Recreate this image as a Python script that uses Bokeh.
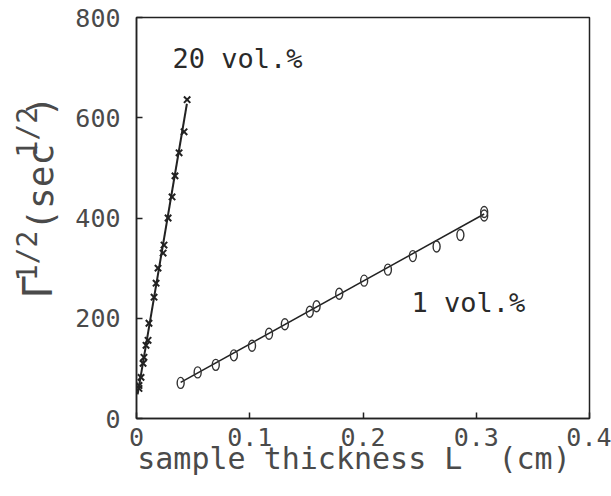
from bokeh.plotting import figure
from bokeh.models import Range1d, FixedTicker, Label
from bokeh.layouts import row
from bokeh.core.properties import value
from bokeh.embed import file_html
from bokeh.resources import INLINE
import math

# ---- data ----
x_1vol = [0.039, 0.054, 0.070, 0.086, 0.102, 0.117, 0.131, 0.153, 0.159, 0.179,
          0.201, 0.222, 0.244, 0.265, 0.286, 0.307, 0.307]
y_1vol = [71, 92, 107, 126, 145, 169, 188, 213, 224, 249,
          275, 297, 324, 343, 366, 412, 405]
fit_1vol_x = [0.039, 0.307]
fit_1vol_y = [72, 408]

x_20vol = [0.0022, 0.0022, 0.0040, 0.0058, 0.0066, 0.0084, 0.0102, 0.0110, 0.0155,
           0.0173, 0.0190, 0.0235, 0.0243, 0.0279, 0.0314, 0.0340, 0.0376, 0.0420, 0.0447]
y_20vol = [60, 66, 82, 110, 122, 146, 156, 190, 242,
           270, 300, 330, 346, 400, 442, 484, 530, 572, 636]
fit_20vol_x = [0.001, 0.0445]
fit_20vol_y = [48, 628]

x_ticks = [0, 0.1, 0.2, 0.3, 0.4]
x_tick_labels = ["0", "0.1", "0.2", "0.3", "0.4"]
y_ticks = [0, 200, 400, 600, 800]
y_tick_labels = ["0", "200", "400", "600", "800"]

NB = "\u00a0"
x_title = "sample thickness L" + NB + NB + "(cm)" + NB
y_title_parts = ["Γ", "1/2", "(sec", "1/2", ")"]

# ---- layout ----
W, H = 611, 496
LW = 72                      # width of the strip holding the y title
FL, FR, FT, FB = 136, 589, 17, 418
XMIN, XMAX, YMIN, YMAX = 0.0, 0.4, 0.0, 800.0

INK = "#222222"
GREY = "#4a4a4a"
MONO = "DejaVu Sans Mono"

p = figure(width=W - LW, height=H, output_backend="svg", toolbar_location=None,
           x_range=Range1d(XMIN, XMAX), y_range=Range1d(YMIN, YMAX),
           min_border_left=FL - LW, min_border_right=W - FR,
           min_border_top=FT, min_border_bottom=H - FB)
p.background_fill_color = "white"
p.border_fill_color = "white"
p.outline_line_color = INK
p.outline_line_width = 1.5
p.xgrid.grid_line_color = None
p.ygrid.grid_line_color = None

for ax in (p.xaxis[0], p.yaxis[0]):
    ax.axis_line_color = INK
    ax.axis_line_width = 1.5
    ax.major_tick_in = 6
    ax.major_tick_out = 0
    ax.major_tick_line_color = INK
    ax.major_tick_line_width = 1.5
    ax.minor_tick_line_color = None
    ax.major_label_text_font = MONO
    ax.major_label_text_font_size = "25px"
    ax.major_label_text_color = GREY

p.xaxis.ticker = FixedTicker(ticks=x_ticks)
p.yaxis.ticker = FixedTicker(ticks=y_ticks)
p.xaxis.major_label_overrides = {t: s for t, s in zip(x_ticks, x_tick_labels)}
p.yaxis.major_label_overrides = {t: s for t, s in zip(y_ticks, y_tick_labels)}
p.xaxis.major_label_standoff = 9
p.yaxis.major_label_standoff = 16

p.xaxis.axis_label = x_title
p.xaxis.axis_label_text_font = MONO
p.xaxis.axis_label_text_font_size = "30px"
p.xaxis.axis_label_text_font_style = "normal"
p.xaxis.axis_label_text_color = GREY
p.xaxis.axis_label_standoff = -8

# ---- marks ----
p.line(fit_1vol_x, fit_1vol_y, line_color=INK, line_width=1.5)
p.ellipse(x=x_1vol, y=y_1vol, width=7, height=11, width_units="screen",
          height_units="screen", fill_color=None, line_color="#333333", line_width=1.4)

p.line(fit_20vol_x, fit_20vol_y, line_color=INK, line_width=2)
p.scatter(x_20vol, y_20vol, marker="x", size=9, line_color=INK, line_width=2)


def dx(px):
    return XMIN + (px - FL) / (FR - FL) * (XMAX - XMIN)


def dy(py):
    return YMIN + (FB - py) / (FB - FT) * (YMAX - YMIN)


def add_text(px, py, s, size, color=INK):
    p.add_layout(Label(x=dx(px), y=dy(py), text=s, text_font=MONO,
                       text_font_size=f"{size}px", text_color=color,
                       text_align="left", text_baseline="alphabetic"))


# series annotations
add_text(172, 58, "20 vol.%", 27, color="#2a2a2a")
add_text(411, 302, "1 vol.%", 27, color="#2a2a2a")

# ---- y title strip (pixel coordinates, y measured from the top) ----
q = figure(width=LW, height=H, output_backend="svg", toolbar_location=None,
           x_range=Range1d(0, LW), y_range=Range1d(H, 0),
           x_axis_type=None, y_axis_type=None,
           min_border_left=0, min_border_right=0, min_border_top=0, min_border_bottom=0)
q.outline_line_color = None
q.background_fill_color = "white"
q.border_fill_color = "white"
q.xgrid.grid_line_color = None
q.ygrid.grid_line_color = None

R = math.pi / 2
# (centre x, centre y, size) of each rotated piece
parts_pos = [(37, 333, 40), (27, 295, 28), (40, 210, 36), (27, 142, 28), (40, 110, 36)]
for s, (cx, cy, fs) in zip(y_title_parts, parts_pos):
    q.text(x=[cx], y=[cy], text=[s], angle=R, text_font=value(MONO),
           text_font_size=value(f"{fs}px"), text_color=GREY,
           text_align="center", text_baseline="middle")

layout = row(q, p, spacing=0)
open("out.html", "w").write(file_html(layout, INLINE))
